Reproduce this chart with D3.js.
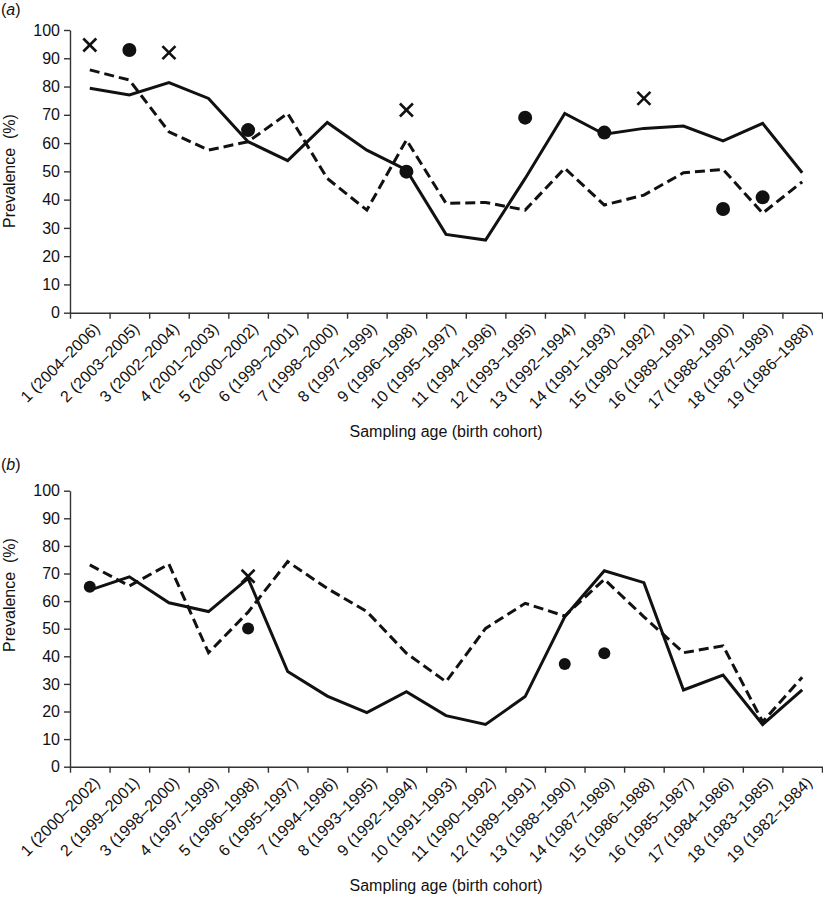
<!DOCTYPE html>
<html>
<head>
<meta charset="utf-8">
<script src="https://cdn.jsdelivr.net/npm/d3@7"></script>
<style>
  body { margin: 0; background: #fff; }
  svg { display: block; }
  text { font-family: "Liberation Sans", Arial, Helvetica, sans-serif; fill: #111; }
</style>
</head>
<body>
<div id="chart"></div>
<script>
// ---------- data ----------
const categoriesA = ["1 (2004–2006)","2 (2003–2005)","3 (2002–2004)","4 (2001–2003)","5 (2000–2002)","6 (1999–2001)","7 (1998–2000)","8 (1997–1999)","9 (1996–1998)","10 (1995–1997)","11 (1994–1996)","12 (1993–1995)","13 (1992–1994)","14 (1991–1993)","15 (1990–1992)","16 (1989–1991)","17 (1988–1990)","18 (1987–1989)","19 (1986–1988)"];
const solidA  = [79.4, 77.0, 81.4, 75.8, 60.5, 53.8, 67.3, 57.5, 50.5, 27.7, 25.7, 47.5, 70.5, 63.1, 65.2, 66.0, 60.8, 67.0, 49.5];
const dashedA = [85.9, 82.3, 64.0, 57.5, 60.5, 70.5, 47.5, 36.3, 61.1, 38.7, 39.0, 36.3, 51.1, 38.1, 41.6, 49.5, 50.7, 35.2, 46.3];
const dotsA   = [{c: 2, v: 92.9}, {c: 5, v: 64.6}, {c: 9, v: 49.9}, {c: 12, v: 69.0}, {c: 14, v: 63.7}, {c: 17, v: 36.7}, {c: 18, v: 40.8}];
const crossesA = [{c: 1, v: 94.7}, {c: 3, v: 92.0}, {c: 9, v: 71.7}, {c: 15, v: 75.8}];

const categoriesB = ["1 (2000–2002)","2 (1999–2001)","3 (1998–2000)","4 (1997–1999)","5 (1996–1998)","6 (1995–1997)","7 (1994–1996)","8 (1993–1995)","9 (1992–1994)","10 (1991–1993)","11 (1990–1992)","12 (1989–1991)","13 (1988–1990)","14 (1987–1989)","15 (1986–1988)","16 (1985–1987)","17 (1984–1986)","18 (1983–1985)","19 (1982–1984)"];
const solidB  = [64.0, 68.8, 59.4, 56.2, 68.2, 34.5, 25.6, 19.6, 27.2, 18.5, 15.3, 25.4, 54.3, 71.0, 66.7, 27.8, 33.2, 15.3, 27.8];
const dashedB = [73.1, 65.5, 73.4, 41.3, 56.0, 74.3, 64.6, 56.2, 41.1, 30.8, 50.1, 59.2, 54.6, 67.9, 54.3, 41.3, 43.8, 16.3, 32.4];
const dotsB   = [{c: 1, v: 65.2}, {c: 5, v: 50.1}, {c: 13, v: 37.2}, {c: 14, v: 41.1}];
const crossesB = [{c: 5, v: 69.0}];

const yTicks = [0, 10, 20, 30, 40, 50, 60, 70, 80, 90, 100];
const yTitle = "Prevalence\u00a0\u00a0(%)";
const xTitle = "Sampling age (birth cohort)";

// ---------- drawing ----------
const W = 823, H = 897;
const svg = d3.select("#chart").append("svg").attr("width", W).attr("height", H);

function panel(cfg) {
  const g = svg.append("g");
  const x = d3.scaleBand().domain(cfg.categories).range([70, 822]).padding(0);
  const xEdge = d3.scaleLinear().domain([0, cfg.categories.length]).range([70, 822]);
  const y = d3.scaleLinear().domain([0, 100]).range([cfg.y0, cfg.y100]);
  const cx = i => x(cfg.categories[i]) + x.bandwidth() / 2;

  // panel label
  const lab = g.append("text").attr("x", 1).attr("y", cfg.labelY).attr("font-size", 16);
  lab.append("tspan").text("(");
  lab.append("tspan").attr("font-style", "italic").text(cfg.label);
  lab.append("tspan").text(")");

  // y axis
  const ya = g.append("g").attr("transform", "translate(70,0)")
    .call(d3.axisLeft(y).tickValues(yTicks).tickSize(6).tickSizeOuter(0).tickPadding(4));
  ya.selectAll("text").attr("font-size", 16).attr("font-family", null).style("fill", "#111");
  ya.selectAll("line,path").attr("stroke", "#333").attr("stroke-width", 1.4);

  // x axis: boundary ticks
  const xa = g.append("g").attr("transform", `translate(0,${cfg.y0})`)
    .call(d3.axisBottom(xEdge).tickValues(d3.range(cfg.categories.length + 1)).tickFormat("").tickSize(6).tickSizeOuter(0));
  xa.selectAll("line,path").attr("stroke", "#333").attr("stroke-width", 1.4);

  // x axis labels (band scale)
  const xl = g.append("g").attr("transform", `translate(0,${cfg.y0})`)
    .call(d3.axisBottom(x).tickSize(0).tickPadding(0));
  xl.select(".domain").remove();
  xl.selectAll("text")
    .attr("font-size", 16).attr("font-family", null).style("fill", "#111")
    .attr("text-anchor", "end")
    .attr("y", 0).attr("dy", "0.35em")
    .attr("transform", "translate(7,13) rotate(-45)");

  // titles
  g.append("text").attr("x", 446).attr("y", cfg.y0 + 124).attr("text-anchor", "middle")
    .attr("font-size", 16).text(xTitle);
  g.append("text").attr("transform", `translate(15,${cfg.yTitleC}) rotate(-90)`)
    .attr("text-anchor", "middle").attr("font-size", 16).text(yTitle);

  // lines
  const line = d3.line().x((d, i) => cx(i)).y(d => y(d));
  g.append("path").datum(cfg.solid).attr("d", line)
    .attr("fill", "none").attr("stroke", "#111").attr("stroke-width", 3).attr("stroke-linejoin", "miter");
  g.append("path").datum(cfg.dashed).attr("d", line)
    .attr("fill", "none").attr("stroke", "#111").attr("stroke-width", 3).attr("stroke-dasharray", "10,5");

  // dots
  g.selectAll("circle.dot").data(cfg.dots).enter().append("circle")
    .attr("cx", d => cx(d.c - 1)).attr("cy", d => y(d.v)).attr("r", cfg.r).attr("fill", "#111");

  // crosses
  const cs = 6.5;
  const cr = g.selectAll("g.cross").data(cfg.crosses).enter().append("g")
    .attr("transform", d => `translate(${cx(d.c - 1)},${y(d.v)})`);
  cr.append("line").attr("x1", -cs).attr("y1", -cs).attr("x2", cs).attr("y2", cs)
    .attr("stroke", "#111").attr("stroke-width", 2.6);
  cr.append("line").attr("x1", -cs).attr("y1", cs).attr("x2", cs).attr("y2", -cs)
    .attr("stroke", "#111").attr("stroke-width", 2.6);
}

panel({ categories: categoriesA, solid: solidA, dashed: dashedA, dots: dotsA, crosses: crossesA,
        y0: 312.7, y100: 30, label: "a", labelY: 15, yTitleC: 171, r: 7 });
panel({ categories: categoriesB, solid: solidB, dashed: dashedB, dots: dotsB, crosses: crossesB,
        y0: 766.7, y100: 490.7, label: "b", labelY: 470, yTitleC: 595, r: 6 });
</script>
</body>
</html>
